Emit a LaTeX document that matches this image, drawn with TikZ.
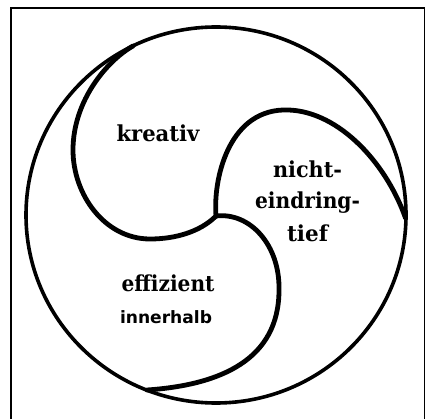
\documentclass[tikz,border=0pt]{standalone}
\usepackage{fontspec}
\setmainfont{DejaVu Serif}
\newfontfamily\labsans{DejaVu Sans}
\newcommand{\wtext}[2]{\resizebox{#1pt}{\height}{#2}}
\begin{document}
\begin{tikzpicture}[x=1pt,y=-1pt,
  lobe/.style={line width=4.8pt, line cap=round, line join=round},
  rim/.style={line width=3.6pt},
  frameline/.style={line width=1.2pt},
  lab/.style={font=\bfseries\fontsize{22}{26}\selectfont, inner sep=0pt, anchor=base},
  labsmall/.style={font=\labsans\bfseries\fontsize{17}{20}\selectfont, inner sep=0pt, anchor=base},
]
\useasboundingbox (0,0) rectangle (430,419);
\draw[frameline] (11,419) -- (11,8) -- (424.5,8) -- (424.5,419);
\draw[rim] (216,215) ellipse [x radius=190, y radius=188];

\coordinate (J) at (216,216);
\coordinate (TL) at (133,46);
\coordinate (R) at (405.5,218);
\coordinate (BL) at (147,390);

% kreativ lobe
\draw[lobe] (J) .. controls (200,232) and (175,239) .. (150,239)
  .. controls (105,239) and (73,195) .. (73,150)
  .. controls (73,100) and (108,60) .. (TL);
% nicht-eindringtief lobe
\draw[lobe] (J) .. controls (213,180) and (228,112) .. (283,110)
  .. controls (335,108) and (385,160) .. (R);
% effizient lobe
\draw[lobe] (J) .. controls (250,212) and (280,245) .. (279,290)
  .. controls (279,360) and (220,385) .. (BL);

\node[lab] (kreativ) at (158,141.7) {\wtext{83}{kreativ}};
\node[lab] (nicht) at (307.5,178) {\wtext{69}{nicht-}};
\node[lab] (eindring) at (307.5,209) {\wtext{105}{eindring-}};
\node[lab] (tief) at (307.5,241.5) {\wtext{41}{tief}};
\node[lab] (effizient) at (168,291.7) {\wtext{93}{effizient}};
\node[labsmall] (innerhalb) at (166,323) {\wtext{92}{innerhalb}};
\end{tikzpicture}
\end{document}
